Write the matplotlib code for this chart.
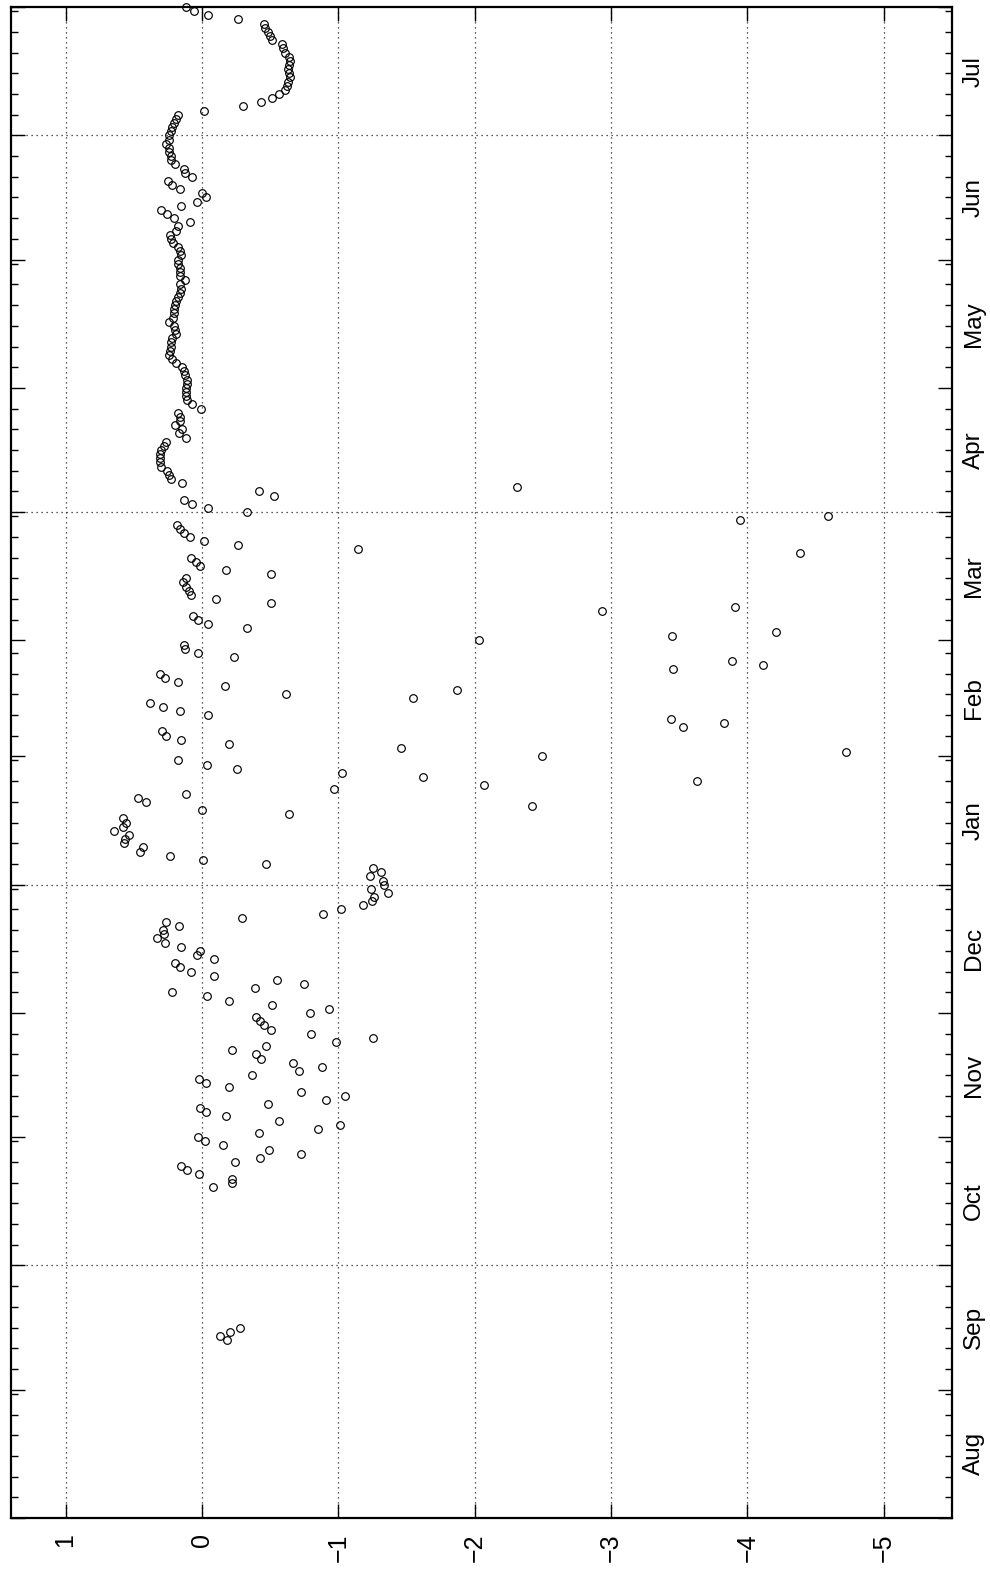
import pandas as pd
import matplotlib
matplotlib.use("Agg")
import matplotlib.pyplot as plt
import matplotlib.dates as mdates

plt.rcParams["font.family"] = ["Liberation Sans", "DejaVu Sans"]

# ---- daily values, one list per month (first date of each run given) ----
sep_2006_start = "2006-09-13"
sep_2006 = [-0.183, -0.134, -0.207, -0.281]

oct_2006_start = "2006-10-20"
oct_2006 = [-0.079, -0.224, -0.220, 0.018, 0.106, 0.153, -0.246, -0.424,
            -0.728, -0.492, -0.154, -0.026]

nov_2006_start = "2006-11-01"
nov_2006 = [0.032, -0.420, -0.853, -1.014, -0.563, -0.174, -0.032, 0.012,
            -0.486, -0.909, -1.048, -0.730, -0.195, -0.032, 0.020, -0.367,
            -0.711, -0.882, -0.667, -0.433, -0.393, -0.220, -0.471, -0.985,
            -1.251, -0.801, -0.506, -0.452, -0.427, -0.398]

dec_2006_start = "2006-12-01"
dec_2006 = [-0.794, -0.933, -0.515, -0.200, -0.037, 0.216, -0.391, -0.752,
            -0.554, -0.092, 0.078, 0.159, 0.196, -0.092, 0.037, 0.012,
            0.152, 0.269, 0.330, 0.276, 0.289, 0.166, 0.264, -0.293,
            -0.887, -1.019, -1.180, -1.246, -1.260, -1.361, -1.239]

jan_2007_start = "2007-01-01"
jan_2007 = [-1.337, -1.327, -1.229, -1.315, -1.251, -0.469, -0.007, 0.232,
            0.452, 0.433, 0.570, 0.562, 0.531, 0.648, 0.579, 0.555,
            0.575, -0.635, 0.000, -2.419, 0.408, 0.472, 0.115, -0.970,
            -2.070, -3.631, -1.620, -1.026, -0.257, -0.037, 0.179]

feb_2007_start = "2007-02-01"
feb_2007 = [-2.493, -4.724, -1.459, -0.195, 0.154, 0.262, 0.293, -3.526,
            -3.831, -3.436, -0.048, 0.159, 0.282, 0.379, -1.551, -0.613,
            -1.870, -0.171, 0.172, 0.274, 0.311, -3.455, -4.113, -3.886,
            -0.232, 0.029, 0.122, 0.130]

mar_2007_start = "2007-03-01"
mar_2007 = [-2.030, -3.448, -4.213, -0.330, -0.048, 0.032, 0.066, -2.933,
            -3.910, -0.508, -0.105, 0.081, 0.098, 0.115, 0.139, 0.115,
            -0.506, -0.178, 0.012, 0.042, 0.081, -4.386, -1.148, -0.268,
            -0.012, 0.091, 0.130, 0.159, 0.183, -3.949, -4.594]

apr_2007_start = "2007-04-01"
apr_2007 = [-0.330, -0.043, 0.073, 0.135, -0.525, -0.422, -2.312, 0.147,
            0.227, 0.245, 0.257, 0.297, 0.304, 0.309, 0.311, 0.297,
            0.279, 0.262, 0.120, 0.168, 0.147, 0.196, 0.163, 0.164,
            0.172, 0.007, 0.073, 0.110, 0.115, 0.115]

may_2007_start = "2007-05-01"
may_2007 = [0.115, 0.110, 0.106, 0.122, 0.135, 0.147, 0.188, 0.220,
            0.238, 0.232, 0.227, 0.227, 0.220, 0.188, 0.196, 0.203,
            0.245, 0.213, 0.208, 0.203, 0.196, 0.188, 0.179, 0.164,
            0.154, 0.159, 0.122, 0.164, 0.159, 0.164, 0.172]

jun_2007_start = "2007-06-01"
jun_2007 = [0.172, 0.154, 0.159, 0.172, 0.213, 0.227, 0.232, 0.188,
            0.179, 0.086, 0.203, 0.257, 0.301, 0.154, 0.037, -0.032,
            0.000, 0.159, 0.220, 0.252, 0.073, 0.122, 0.135, 0.196,
            0.227, 0.227, 0.238, 0.245, 0.262, 0.245]

jul_2007_start = "2007-07-01"
jul_2007 = [0.238, 0.227, 0.223, 0.208, 0.188, 0.172, -0.012, -0.301,
            -0.435, -0.513, -0.562, -0.606, -0.623, -0.633, -0.647, -0.642,
            -0.633, -0.638, -0.647, -0.642, -0.609, -0.598, -0.589, -0.515,
            -0.501, -0.488, -0.466, -0.452, -0.264, -0.044, 0.056]

aug_2007_start = "2007-08-01"
aug_2007 = [0.117]

# ---- axis labelling ----
month_labels = ["Aug", "Sep", "Oct", "Nov", "Dec", "Jan",
                "Feb", "Mar", "Apr", "May", "Jun", "Jul"]
value_ticks = [1, 0, -1, -2, -3, -4, -5]
quarter_lines = ["2006-10-01", "2007-01-01", "2007-04-01", "2007-07-01"]
period_start, period_end = "2006-08-01", "2007-08-01"
value_range = (1.4, -5.5)

runs = [
    (sep_2006_start, sep_2006), (oct_2006_start, oct_2006),
    (nov_2006_start, nov_2006), (dec_2006_start, dec_2006),
    (jan_2007_start, jan_2007), (feb_2007_start, feb_2007),
    (mar_2007_start, mar_2007), (apr_2007_start, apr_2007),
    (may_2007_start, may_2007), (jun_2007_start, jun_2007),
    (jul_2007_start, jul_2007), (aug_2007_start, aug_2007),
]
dates = []
values = []
for start, vals in runs:
    dates.extend(pd.date_range(start, periods=len(vals), freq="D"))
    values.extend(vals)
dates = pd.DatetimeIndex(dates)

fig = plt.figure(figsize=(9.9, 15.69), dpi=100)
ax = fig.add_axes([0.0111, 0.0325, 0.9505, 0.963])

ax.plot(values, dates, linestyle="none", marker="o", markersize=5.5,
        markerfacecolor="none", markeredgecolor="black", markeredgewidth=0.85,
        clip_on=False, zorder=3)

ax.set_xlim(*value_range)
ax.set_ylim(pd.Timestamp(period_start), pd.Timestamp(period_end))

# value axis along the bottom, labels turned with the page
ax.set_xticks(value_ticks)
ax.set_xticklabels([f"{v:d}".replace("-", "\u2212") for v in value_ticks])
ax.tick_params(axis="x", which="major", direction="in", length=10, width=1.0,
               top=True, bottom=True, labelsize=18, labelrotation=90, pad=11)

# date axis: month ticks, 5-day minor ticks
ax.yaxis.set_major_locator(mdates.MonthLocator())
ax.yaxis.set_minor_locator(mdates.DayLocator(bymonthday=[1, 6, 11, 16, 21, 26, 31]))
ax.tick_params(axis="y", which="major", direction="in", length=10, width=1.0,
               left=True, right=True, labelleft=False, labelright=False)
ax.tick_params(axis="y", which="minor", direction="in", length=5, width=1.0,
               left=True, right=True)

# month names centred within each month on the right-hand side
month_starts = pd.date_range(period_start, period_end, freq="MS")
mids = month_starts[:-1] + (month_starts[1:] - month_starts[:-1]) / 2
sec = ax.secondary_yaxis("right")
sec.set_yticks(mdates.date2num(mids))
sec.set_yticklabels(month_labels, rotation=90, va="center", fontsize=17.5)
sec.tick_params(length=0, pad=8)
sec.spines["right"].set_visible(False)

# dotted grid
ax.grid(axis="x", which="major", linestyle=(0, (1, 3)), color="0.15", linewidth=0.9)
for q in quarter_lines:
    ax.axhline(pd.Timestamp(q), linestyle=(0, (1, 3)), color="0.15",
               linewidth=0.9, zorder=0.5)
ax.set_axisbelow(True)

for s in ax.spines.values():
    s.set_linewidth(1.6)

fig.savefig("out.png", dpi=100)
